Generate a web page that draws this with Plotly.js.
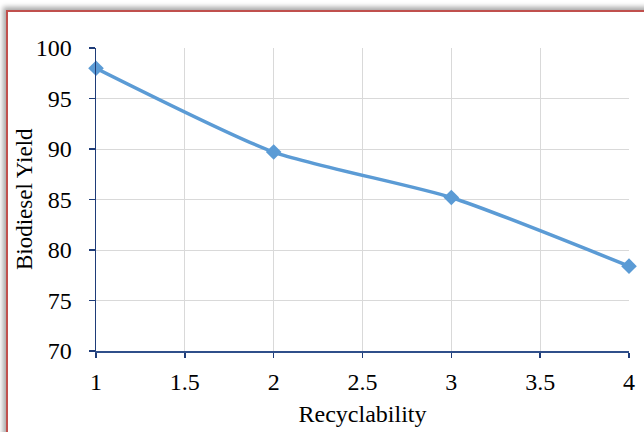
<!DOCTYPE html>
<html>
<head>
<meta charset="utf-8">
<script src="https://cdn.plot.ly/plotly-3.0.1.min.js"></script>
<style>
  html, body { margin: 0; padding: 0; background: #ffffff; overflow: hidden; }
  #frame {
    position: absolute; left: 6px; top: 10px; width: 700px; height: 500px;
    border-left: 2px solid #c0504d; border-top: 2px solid #c0504d;
    box-shadow: -3px -3px 5px rgba(0,0,0,0.35);
    background: #ffffff;
  }
  #chart { position: absolute; left: 0; top: 0; width: 644px; height: 432px; }
</style>
</head>
<body>
<div id="frame"></div>
<div id="chart"></div>
<script>
const recyclability = [1, 2, 3, 4];
const biodieselYield = [98.0, 89.7, 85.2, 78.4];
const xTicks = [1, 1.5, 2, 2.5, 3, 3.5, 4];
const yTicks = [70, 75, 80, 85, 90, 95, 100];
const xTitle = 'Recyclability';
const yTitle = 'Biodiesel Yield';

const fontFam = '"Liberation Serif", "DejaVu Serif", serif';

const trace = {
  x: recyclability,
  y: biodieselYield,
  type: 'scatter',
  mode: 'lines+markers',
  cliponaxis: false,
  line: { color: '#5b9bd5', width: 3.5, shape: 'spline', smoothing: 0.6 },
  marker: { symbol: 'diamond', size: 12, color: '#5b9bd5' },
  hoverinfo: 'skip'
};

const layout = {
  width: 644, height: 432,
  margin: { l: 96, r: 15, t: 48, b: 81 },
  paper_bgcolor: 'rgba(0,0,0,0)',
  plot_bgcolor: '#ffffff',
  showlegend: false,
  font: { family: fontFam, size: 24, color: '#000000' },
  xaxis: {
    range: [1, 4],
    tickvals: xTicks,
    ticktext: xTicks.map(String),
    showgrid: true, gridcolor: '#d9d9d9', gridwidth: 1,
    showline: true, linecolor: '#2f4f8a', linewidth: 1.5,
    ticks: 'outside', ticklen: 5, tickcolor: '#1f3c78', tickwidth: 1.5,
    ticklabelstandoff: 4,
    zeroline: false,
    tickfont: { family: fontFam, size: 24, color: '#000000' },
    title: { text: xTitle, font: { family: fontFam, size: 24, color: '#000000' }, standoff: 11 }
  },
  yaxis: {
    range: [70, 100],
    tickvals: yTicks,
    ticktext: yTicks.map(String),
    showgrid: true, gridcolor: '#d9d9d9', gridwidth: 1,
    showline: true, linecolor: '#1f3c78', linewidth: 1.5,
    ticks: 'outside', ticklen: 6, tickcolor: '#1f3c78', tickwidth: 1.5,
    ticklabelstandoff: 12,
    zeroline: false,
    tickfont: { family: fontFam, size: 24, color: '#000000' }
  },
  annotations: [{
    text: yTitle,
    xref: 'paper', yref: 'paper',
    x: -0.133, y: 0.502,
    xanchor: 'center', yanchor: 'middle',
    textangle: -90,
    showarrow: false,
    font: { family: fontFam, size: 23, color: '#000000' }
  }]
};

Plotly.newPlot('chart', [trace], layout, { displayModeBar: false, staticPlot: true });
</script>
</body>
</html>
